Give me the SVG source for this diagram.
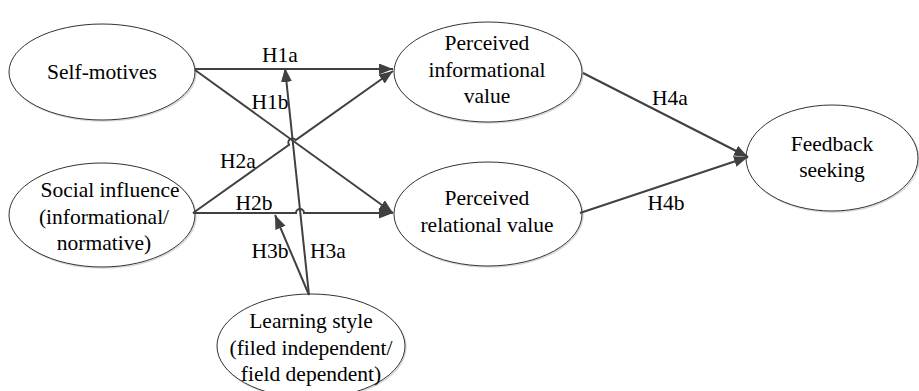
<svg xmlns="http://www.w3.org/2000/svg" width="919" height="391" viewBox="0 0 919 391">
<style>
.n ellipse.s{fill:none;stroke:#d8d8d8;stroke-width:1.5}
.n ellipse.m{fill:#fff;stroke:#333;stroke-width:1}
text{font-family:"Liberation Serif","Times New Roman",serif;font-size:21.5px;fill:#000;text-anchor:middle}
.c path{fill:none;stroke:#404040;stroke-width:2}
</style>
<defs>
<marker id="ah" markerUnits="userSpaceOnUse" markerWidth="16" markerHeight="12" refX="14" refY="5.5" orient="auto">
<path d="M0,0 L14,5.5 L0,11 z" fill="#404040"/>
</marker>
</defs>
<rect width="919" height="391" fill="#fff"/>
<g id="self-motives" class="n">
<ellipse class="s" cx="103" cy="73" rx="93" ry="48"/>
<ellipse class="m" cx="102" cy="72" rx="93" ry="48"/>
<text x="102" y="79">Self-motives</text>
</g>
<g id="social-influence" class="n">
<ellipse class="s" cx="103" cy="216" rx="93" ry="52"/>
<ellipse class="m" cx="102" cy="215" rx="93" ry="52"/>
<text x="110" y="197">Social influence</text>
<text x="104" y="224">(informational/</text>
<text x="104" y="250">normative)</text>
</g>
<g id="learning-style" class="n">
<ellipse class="s" cx="312" cy="347" rx="94" ry="52"/>
<ellipse class="m" cx="311" cy="346" rx="94" ry="52"/>
<text x="311" y="328">Learning style</text>
<text x="311" y="355">(filed independent/</text>
<text x="311" y="381">field dependent)</text>
</g>
<g id="perceived-informational" class="n">
<ellipse class="s" cx="489" cy="73" rx="94" ry="50"/>
<ellipse class="m" cx="488" cy="72" rx="94" ry="50"/>
<text x="487" y="50">Perceived</text>
<text x="487" y="77">informational</text>
<text x="487" y="103">value</text>
</g>
<g id="perceived-relational" class="n">
<ellipse class="s" cx="489" cy="215" rx="94" ry="52"/>
<ellipse class="m" cx="488" cy="214" rx="94" ry="52"/>
<text x="487" y="205">Perceived</text>
<text x="487" y="232">relational value</text>
</g>
<g id="feedback-seeking" class="n">
<ellipse class="s" cx="833" cy="159" rx="86" ry="53"/>
<ellipse class="m" cx="832" cy="158" rx="86" ry="53"/>
<text x="832" y="151">Feedback</text>
<text x="832" y="177">seeking</text>
</g>
<g id="connectors" class="c">
<path d="M195,69 L393,69" marker-end="url(#ah)"/>
<path d="M195,70 L393,213" marker-end="url(#ah)"/>
<path d="M193,213 L289.1,144.7 A4,4 0 0 1 295.7,140.1 L393,71" marker-end="url(#ah)"/>
<path d="M193,213 L296,213 A4,4 0 0 1 304,213 L393,213" marker-end="url(#ah)"/>
<path d="M309,295 L285,68" marker-end="url(#ah)"/>
<path d="M309,295 L275,215" marker-end="url(#ah)"/>
<path d="M583,73 L748,157" marker-end="url(#ah)"/>
<path d="M580,213 L748,157" marker-end="url(#ah)"/>
</g>
<g id="labels">
<text x="280" y="62">H1a</text>
<text x="270" y="109">H1b</text>
<text x="238" y="168">H2a</text>
<text x="254" y="210">H2b</text>
<text x="270" y="258">H3b</text>
<text x="328" y="258">H3a</text>
<text x="670" y="105">H4a</text>
<text x="666" y="210">H4b</text>
</g>
</svg>
